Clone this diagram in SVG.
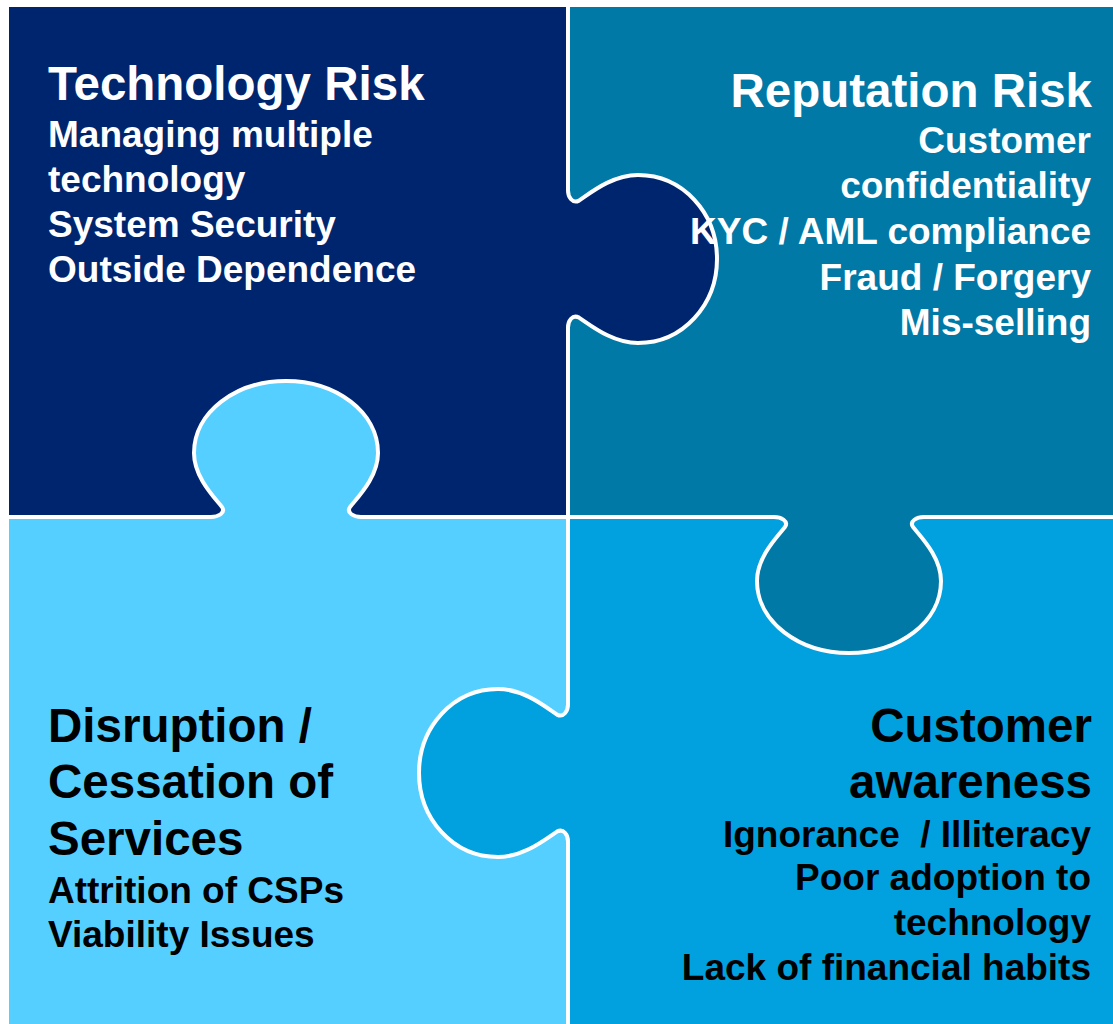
<svg xmlns="http://www.w3.org/2000/svg" width="1113" height="1024" viewBox="0 0 1113 1024">
  <defs>
    <style>
      .t { font-family: "Liberation Sans", Arial, sans-serif; font-weight: bold; }
      .head { font-size: 47.5px; }
      .item { font-size: 37px; }
      .light { fill: #ffffff; }
      .dark { fill: #000000; }
      .end { text-anchor: end; }
      .cut { fill: none; stroke: #ffffff; stroke-width: 4; stroke-linejoin: round; stroke-linecap: butt; }
      .navy { fill: #00256F; }
      .teal { fill: #0079A7; }
      .sky { fill: #55CFFF; }
      .blue { fill: #00A1DE; }
    </style>
  </defs>

  <rect x="0" y="0" width="1113" height="1024" fill="#ffffff"/>

  <!-- top-left piece: knob out to the right, socket at the bottom -->
  <g id="technology-risk">
    <path class="navy" d="M9,7 L568,7 L568,190.5 C568,197 572.4,204 579,200.6 C590,193.3 612,175 638,175 C683,175 717,213.3 717,259 C717,304.7 683,343 638,343 C612,343 590,324.7 579,317.6 C572.4,314 568,321 568,327.5 L568,517 L361,517 C354,517 346,513 350,507 C358,497 378,477 378,453 C378,412 336,381 286,381 C236,381 194,412 194,453 C194,477 214,497 222,507 C226,513 218,517 211,517 L9,517 Z"/>
    <g class="t light">
      <text class="head" x="48" y="100">Technology Risk</text>
      <text class="item" x="48" y="147">Managing multiple</text>
      <text class="item" x="48" y="192">technology</text>
      <text class="item" x="48" y="237">System Security</text>
      <text class="item" x="48" y="282">Outside Dependence</text>
    </g>
  </g>

  <!-- top-right piece: knob down, socket on the left -->
  <g id="reputation-risk">
    <path class="teal" d="M568,7 L1113,7 L1113,517 L924,517 C917,517 909,521 913,527 C921,537 941,557 941,581 C941,622 899,653 849,653 C799,653 757,622 757,581 C757,557 777,537 785,527 C789,521 781,517 774,517 L568,517 L568,327.5 C568,321 572.4,314 579,317.6 C590,324.7 612,343 638,343 C683,343 717,304.7 717,259 C717,213.3 683,175 638,175 C612,175 590,193.3 579,200.6 C572.4,204 568,197 568,190.5 Z"/>
    <g class="t light">
      <text class="head end" x="1092" y="107">Reputation Risk</text>
      <text class="item end" x="1091" y="153">Customer</text>
      <text class="item end" x="1091" y="198">confidentiality</text>
      <text class="item end" x="1091" y="244">KYC / AML compliance</text>
      <text class="item end" x="1091" y="290">Fraud / Forgery</text>
      <text class="item end" x="1091" y="335">Mis-selling</text>
    </g>
  </g>

  <!-- bottom-left piece: knob up, socket on the right -->
  <g id="disruption">
    <path class="sky" d="M9,517 L211,517 C218,517 226,513 222,507 C214,497 194,477 194,453 C194,412 236,381 286,381 C336,381 378,412 378,453 C378,477 358,497 350,507 C346,513 354,517 361,517 L568,517 L568,704.5 C568,711 563.6,718 557,714.6 C546,707.3 524,689 498,689 C453,689 419,727.3 419,773 C419,818.7 453,857 498,857 C524,857 546,838.7 557,831.6 C563.6,828 568,835 568,841.5 L568,1024 L9,1024 Z"/>
    <g class="t dark">
      <text class="head" x="48" y="742">Disruption /</text>
      <text class="head" x="48" y="798">Cessation of</text>
      <text class="head" x="48" y="855">Services</text>
      <text class="item" x="48" y="903">Attrition of CSPs</text>
      <text class="item" x="48" y="947">Viability Issues</text>
    </g>
  </g>

  <!-- bottom-right piece: knob out to the left, socket at the top -->
  <g id="customer-awareness">
    <path class="blue" d="M568,517 L774,517 C781,517 789,521 785,527 C777,537 757,557 757,581 C757,622 799,653 849,653 C899,653 941,622 941,581 C941,557 921,537 913,527 C909,521 917,517 924,517 L1113,517 L1113,1024 L568,1024 L568,841.5 C568,835 563.6,828 557,831.6 C546,838.7 524,857 498,857 C453,857 419,818.7 419,773 C419,727.3 453,689 498,689 C524,689 546,707.3 557,714.6 C563.6,718 568,711 568,704.5 Z"/>
    <g class="t dark">
      <text class="head end" x="1092" y="742">Customer</text>
      <text class="head end" x="1092" y="798">awareness</text>
      <text class="item end" x="1091" y="847" xml:space="preserve">Ignorance  / Illiteracy</text>
      <text class="item end" x="1091" y="890">Poor adoption to</text>
      <text class="item end" x="1091" y="935">technology</text>
      <text class="item end" x="1091" y="980">Lack of financial habits</text>
    </g>
  </g>

  <!-- white cut lines between the pieces -->
  <g id="cuts">
    <path class="cut" d="M568,7 L568,190.5 C568,197 572.4,204 579,200.6 C590,193.3 612,175 638,175 C683,175 717,213.3 717,259 C717,304.7 683,343 638,343 C612,343 590,324.7 579,317.6 C572.4,314 568,321 568,327.5 L568,704.5 C568,711 563.6,718 557,714.6 C546,707.3 524,689 498,689 C453,689 419,727.3 419,773 C419,818.7 453,857 498,857 C524,857 546,838.7 557,831.6 C563.6,828 568,835 568,841.5 L568,1024"/>
    <path class="cut" d="M9,517 L211,517 C218,517 226,513 222,507 C214,497 194,477 194,453 C194,412 236,381 286,381 C336,381 378,412 378,453 C378,477 358,497 350,507 C346,513 354,517 361,517 L774,517 C781,517 789,521 785,527 C777,537 757,557 757,581 C757,622 799,653 849,653 C899,653 941,622 941,581 C941,557 921,537 913,527 C909,521 917,517 924,517 L1113,517"/>
  </g>
</svg>
